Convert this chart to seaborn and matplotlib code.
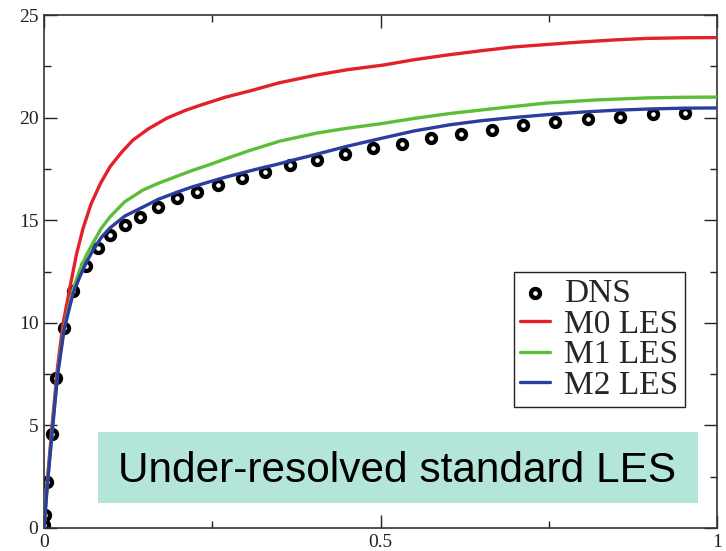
import matplotlib
matplotlib.use("Agg")
import matplotlib.pyplot as plt
from matplotlib.patches import Rectangle
from matplotlib.ticker import MultipleLocator, FixedLocator
import seaborn as sns
import numpy as np

# ---- data ----
dns_x = [0.0, 0.0015, 0.0045, 0.012, 0.018, 0.030, 0.043, 0.062, 0.080, 0.098,
         0.120, 0.143, 0.169, 0.198, 0.227, 0.259, 0.294, 0.328, 0.366, 0.406,
         0.447, 0.489, 0.532, 0.575, 0.620, 0.666, 0.712, 0.759, 0.808, 0.856,
         0.905, 0.952]
dns_y = [0.15, 0.63, 2.24, 4.58, 7.31, 9.75, 11.55, 12.77, 13.65, 14.28,
         14.77, 15.16, 15.65, 16.08, 16.37, 16.72, 17.06, 17.35, 17.69, 17.93,
         18.23, 18.52, 18.71, 19.01, 19.20, 19.40, 19.64, 19.79, 19.93, 20.03,
         20.18, 20.22]

m0_x = [0.0, 0.005, 0.012, 0.020, 0.028, 0.039, 0.048, 0.058, 0.070, 0.084, 0.098,
        0.115, 0.132, 0.155, 0.183, 0.21, 0.232, 0.27, 0.306, 0.35, 0.406, 0.45,
        0.504, 0.55, 0.599, 0.65, 0.697, 0.75, 0.796, 0.85, 0.896, 0.95, 1.0]
m0_y = [0.0, 2.3, 5.0, 7.8, 9.9, 11.8, 13.3, 14.6, 15.8, 16.8, 17.6,
        18.3, 18.9, 19.45, 19.98, 20.35, 20.6, 21.0, 21.3, 21.7, 22.08, 22.33,
        22.56, 22.82, 23.05, 23.26, 23.44, 23.57, 23.68, 23.79, 23.86, 23.89, 23.9]

m1_x = [0.0, 0.005, 0.012, 0.020, 0.030, 0.043, 0.053, 0.063, 0.073, 0.085, 0.098,
        0.12, 0.147, 0.17, 0.198, 0.22, 0.247, 0.275, 0.306, 0.35, 0.406, 0.45,
        0.5, 0.55, 0.603, 0.68, 0.747, 0.82, 0.896, 0.95, 1.0]
m1_y = [0.0, 2.2, 4.7, 7.5, 9.8, 11.6, 12.57, 13.3, 13.9, 14.6, 15.16,
        15.9, 16.47, 16.8, 17.15, 17.42, 17.72, 18.05, 18.4, 18.85, 19.25, 19.48,
        19.7, 19.96, 20.2, 20.48, 20.71, 20.86, 20.96, 20.99, 21.0]

m2_x = [0.0, 0.005, 0.012, 0.020, 0.030, 0.043, 0.053, 0.063, 0.073, 0.085, 0.098,
        0.12, 0.147, 0.17, 0.198, 0.22, 0.247, 0.27, 0.296, 0.32, 0.346, 0.37,
        0.395, 0.45, 0.5, 0.55, 0.603, 0.65, 0.697, 0.75, 0.8, 0.85, 0.9, 0.95, 1.0]
m2_y = [0.0, 2.1, 4.6, 7.4, 9.7, 11.4, 12.23, 12.95, 13.55, 14.15, 14.62,
        15.2, 15.64, 16.02, 16.37, 16.62, 16.88, 17.1, 17.32, 17.52, 17.72, 17.93,
        18.13, 18.6, 18.98, 19.35, 19.65, 19.85, 20.0, 20.15, 20.27, 20.36, 20.42, 20.46, 20.47]

series_names = ["DNS", "M0 LES", "M1 LES", "M2 LES"]
series_colors = ["black", "#e4202a", "#5cbd3b", "#2b3d9e"]

x_ticks = [0, 0.5, 1]
x_tick_labels = ["0", "0.5", "1"]
y_ticks = [0, 5, 10, 15, 20, 25]
annotation = "Under-resolved standard LES"

# ---- figure ----
sns.set_style("ticks")
plt.rcParams["font.family"] = ["Liberation Serif", "DejaVu Serif"]

fig = plt.figure(figsize=(7.26, 5.51), dpi=100)
ax = fig.add_axes([44 / 726, 1 - 528 / 551, 673 / 726, 513 / 551])

sns.scatterplot(x=dns_x, y=dns_y, ax=ax, marker="o", s=42,
                facecolor="white", edgecolor=series_colors[0], linewidth=3.1,
                label=series_names[0], zorder=2)
for xs, ys, name, col in [(m0_x, m0_y, series_names[1], series_colors[1]),
                          (m1_x, m1_y, series_names[2], series_colors[2]),
                          (m2_x, m2_y, series_names[3], series_colors[3])]:
    sns.lineplot(x=xs, y=ys, ax=ax, color=col, linewidth=2.4, sort=False,
                 label=name, zorder=3)

ax.set_xlim(0, 1)
ax.set_ylim(0, 25)
ax.set_xticks(x_ticks)
ax.set_xticklabels(x_tick_labels)
ax.set_yticks(y_ticks)
ax.xaxis.set_minor_locator(FixedLocator([0.25, 0.75]))
ax.yaxis.set_minor_locator(MultipleLocator(2.5))
ax.tick_params(which="both", direction="in", top=True, right=True,
               labelsize=14, colors="#222222", labelcolor="#222222")
ax.tick_params(which="major", length=9.5, width=1.0)
ax.tick_params(which="minor", length=5, width=1.0)
ax.tick_params(axis="x", pad=4)
ax.tick_params(axis="y", pad=4)
for sp in ax.spines.values():
    sp.set_visible(True)
    sp.set_color("#333333")
    sp.set_linewidth(1.2)

# legend (DNS first)
handles, labels = ax.get_legend_handles_labels()
order = [labels.index(n) for n in series_names]
leg = ax.legend([handles[i] for i in order], [labels[i] for i in order],
                loc="upper left", bbox_to_anchor=(0.698, 0.499),
                bbox_transform=ax.transAxes, fontsize=24, frameon=True,
                fancybox=False, edgecolor="#222222", framealpha=1,
                handlelength=0.9, handletextpad=0.4, labelspacing=0.0,
                borderpad=0.2, borderaxespad=0)
leg.get_frame().set_linewidth(1.0)
for h in leg.legend_handles:
    try:
        h.set_sizes([42])
    except AttributeError:
        pass

# annotation box
ax.add_patch(Rectangle((0.0802, 0.0487), 0.9718 - 0.0802, 0.187 - 0.0487,
                       transform=ax.transAxes, facecolor="#b3e6d8",
                       edgecolor="none", zorder=5))
ax.text(0.525, 0.0897, annotation, transform=ax.transAxes, ha="center",
        va="baseline", fontsize=30.5, family=["Liberation Sans", "DejaVu Sans"],
        color="black", zorder=6)

fig.savefig("out.png", dpi=100)
